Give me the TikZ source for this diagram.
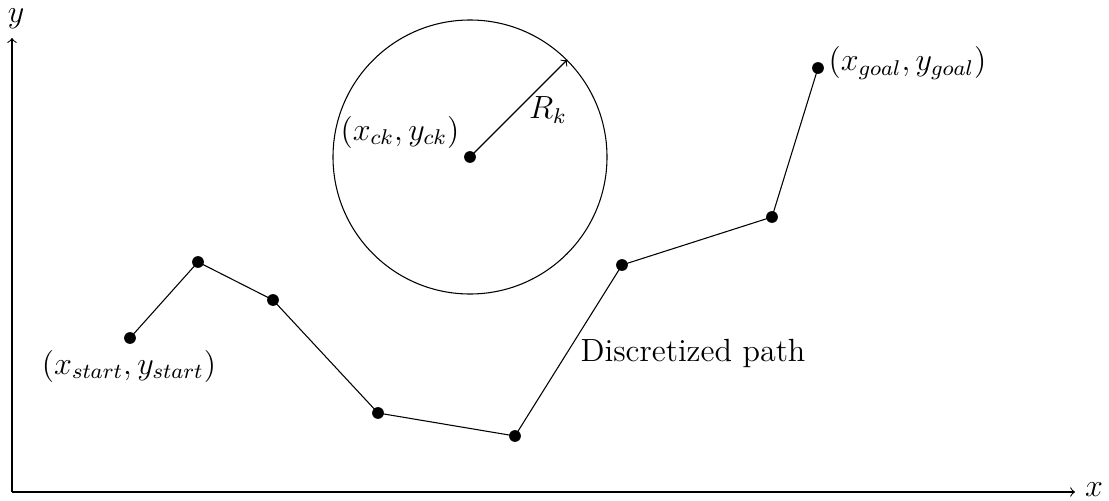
\documentclass[tikz,border=0pt,12pt]{standalone}
\begin{document}
\begin{tikzpicture}[x=0.374pt,y=-0.374pt,
  dot/.style={circle,fill=black,inner sep=0pt,minimum size=4.4pt},
  lbl/.style={inner sep=0pt}]
\useasboundingbox (0,0) rectangle (1109,501);
% axes
\coordinate (O) at (12,492);
\coordinate (xend) at (1075,492);
\coordinate (yend) at (12,38);
\draw[->] (O) -- (xend);
\draw[->] (O) -- (yend);
\node[lbl] (xl) at (1094,490) {$x$};
\node[lbl] (yl) at (16,19) {$y$};
% obstacle
\node[dot] (c) at (470,157) {};
\node[draw,circle,minimum size=274*0.374pt,inner sep=0pt] (circ) at (470,157) {};
\coordinate (r) at (567,60);
\draw[->] (c.center) -- (r);
\node[lbl] (rk) at (548,110) {$R_k$};
\node[lbl] (cl) at (400,132) {$(x_{ck},y_{ck})$};
% path
\node[dot] (p1) at (130,338) {};
\node[dot] (p2) at (198,262) {};
\node[dot] (p3) at (273,300) {};
\node[dot] (p4) at (378,413) {};
\node[dot] (p5) at (515,436) {};
\node[dot] (p6) at (622,265) {};
\node[dot] (p7) at (772,217) {};
\node[dot] (p8) at (818,68) {};
\draw (p1.center) -- (p2.center) -- (p3.center) -- (p4.center) -- (p5.center) -- (p6.center) -- (p7.center) -- (p8.center);
\node[lbl] (sl) at (129,366) {$(x_{start},y_{start})$};
\node[lbl,anchor=west] (gl) at (828,63) {$(x_{goal},y_{goal})$};
\node[lbl,anchor=west] (dl) at (580,353) {Discretized path};
\end{tikzpicture}
\end{document}
